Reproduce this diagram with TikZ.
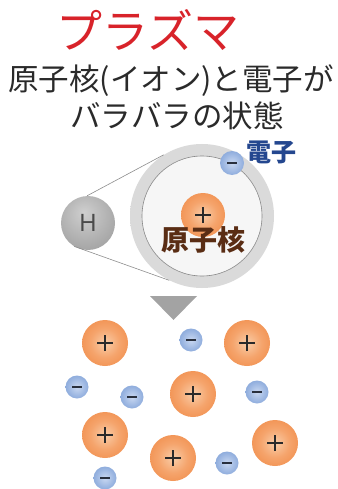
\documentclass[tikz,border=0pt]{standalone}
\usepackage{fontspec}
\newfontfamily\jpfont{Noto Sans CJK JP}
\newfontfamily\latinfont{Noto Sans}

\definecolor{titlered}{HTML}{D8232A}
\definecolor{textgray}{HTML}{2A2A2A}
\definecolor{elabelblue}{HTML}{24478F}
\definecolor{nucbrown}{HTML}{5A2D14}
\definecolor{linegray}{HTML}{8C8C8C}
\definecolor{arrowgray}{HTML}{A3A3A3}
\definecolor{ionlight}{HTML}{F9CDA8}
\definecolor{ionmid}{HTML}{F5A46C}
\definecolor{iondark}{HTML}{EE8038}
\definecolor{ionrim}{HTML}{E27128}
\definecolor{elight}{HTML}{C9D8F1}
\definecolor{emid}{HTML}{9AB5E1}
\definecolor{edark}{HTML}{6D93CF}
\definecolor{erim}{HTML}{5779B8}
\definecolor{hlight}{HTML}{CFCFCF}
\definecolor{hmid}{HTML}{A9A9A9}
\definecolor{hdark}{HTML}{868686}
\definecolor{shelllight}{HTML}{DADADA}
\definecolor{shelldark}{HTML}{C4C4C4}
\definecolor{innerlight}{HTML}{F6F6F6}
\definecolor{innerdark}{HTML}{E0E0E0}

\pgfdeclareradialshading{ionball}{\pgfpoint{0bp}{0bp}}{color(0bp)=(ionlight); color(16bp)=(ionmid); color(40bp)=(iondark); color(50bp)=(ionrim)}
\pgfdeclareradialshading{electronball}{\pgfpoint{0bp}{0bp}}{color(0bp)=(elight); color(20bp)=(emid); color(42bp)=(edark); color(50bp)=(erim)}
\pgfdeclareradialshading{hball}{\pgfpoint{-4bp}{10bp}}{color(0bp)=(hlight); color(28bp)=(hmid); color(55bp)=(hdark); color(70bp)=(hdark)}
\pgfdeclareradialshading{shellball}{\pgfpoint{0bp}{0bp}}{color(0bp)=(shelllight); color(42bp)=(shelllight); color(50bp)=(shelldark)}
\pgfdeclareradialshading{innerball}{\pgfpoint{0bp}{0bp}}{color(0bp)=(innerlight); color(25bp)=(innerlight); color(50bp)=(innerdark)}

\tikzset{
  ion/.style={circle, minimum size=46pt, inner sep=0pt, shading=ionball,
    path picture={\draw[line width=1.3pt, textgray]
      ([xshift=-8pt]path picture bounding box.center) -- ([xshift=8pt]path picture bounding box.center)
      ([yshift=-8pt]path picture bounding box.center) -- ([yshift=8pt]path picture bounding box.center);}},
  electron/.style={circle, minimum size=23pt, inner sep=0pt, shading=electronball,
    path picture={\draw[line width=1.6pt, textgray!80!elabelblue]
      ([xshift=-5pt]path picture bounding box.center) -- ([xshift=5pt]path picture bounding box.center);}},
  jp/.style={font=\jpfont\fontsize{#1}{#1}\selectfont},
  jpbold/.style={font=\jpfont\bfseries\fontsize{#1}{#1}\selectfont}
}

\begin{document}
\begin{tikzpicture}[x=1pt,y=-1pt]
  \useasboundingbox (0,0) rectangle (337,489);
  % heading
  \node[jp=46, text=titlered] (title) at (148,30) {プラズマ};
  \node[jp=30.5, text=textgray] (line1) at (171,81) {原子核(イオン)と電子が};
  \node[jp=30.5, text=textgray] (line2) at (177,116) {バラバラの状態};

  % hydrogen atom and its blow-up
  \node[circle, minimum size=144pt, inner sep=0pt, shading=shellball] (atom) at (202,216) {};
  \node[circle, minimum size=120pt, inner sep=0pt, shading=innerball, draw=shelldark!70!black, line width=0.6pt] (orbit) at (202,216) {};
  \node[circle, minimum size=54pt, inner sep=0pt, shading=hball, text=textgray!85,
        font=\latinfont\fontsize{24}{24}\selectfont] (h) at (88,223) {H};
  \draw[linegray, line width=0.6pt] (h.92) -- (atom.122);
  \draw[linegray, line width=0.6pt] (h.239) -- (atom.243);
  \node[ion, minimum size=44pt] (nucleus) at (203,215) {};
  \node[jpbold=28, text=nucbrown] (nuclabel) at (203,240) {原子核};
  \node[electron, minimum size=24pt] (orbitel) at (232,163) {};
  \node[jpbold=25, text=elabelblue] (ellabel) at (271,152) {電子};

  % down arrow
  \fill[arrowgray] (150,296) -- (197,296) -- (173.5,320) -- cycle;

  % loose ions
  \node[ion] (i1) at (105,343) {};
  \node[ion] (i2) at (247,343) {};
  \node[ion] (i3) at (193,394) {};
  \node[ion] (i4) at (105,435) {};
  \node[ion] (i5) at (173,458) {};
  \node[ion] (i6) at (275,443) {};
  % loose electrons
  \node[electron] (e1) at (191,340) {};
  \node[electron] (e2) at (77,387) {};
  \node[electron] (e3) at (132,397) {};
  \node[electron] (e4) at (257,392) {};
  \node[electron] (e5) at (227,463) {};
  \node[electron] (e6) at (105,478) {};
\end{tikzpicture}
\end{document}
